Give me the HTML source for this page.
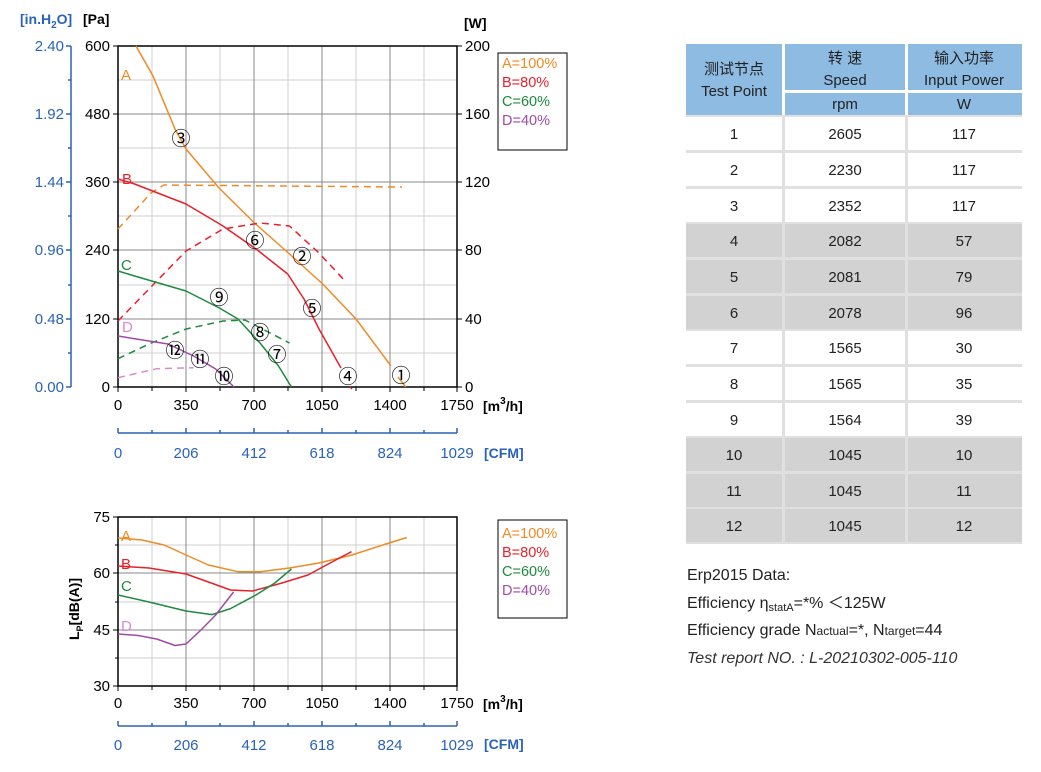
<!DOCTYPE html>
<html><head><meta charset="utf-8"><style>
html,body{margin:0;padding:0;background:#fff;}
svg{display:block;font-family:"Liberation Sans",sans-serif;}
.cn{font-family:"Liberation Sans","Noto Sans CJK SC",sans-serif;}
</style></head><body>
<svg width="1041" height="772" viewBox="0 0 1041 772" xmlns="http://www.w3.org/2000/svg">
<g stroke-width="1">
<g stroke="#cfcfcf">
<line x1="152" y1="46" x2="152" y2="387"/><line x1="220" y1="46" x2="220" y2="387"/><line x1="288" y1="46" x2="288" y2="387"/><line x1="356" y1="46" x2="356" y2="387"/><line x1="424" y1="46" x2="424" y2="387"/>
<line x1="118" y1="80" x2="457" y2="80"/><line x1="118" y1="148" x2="457" y2="148"/><line x1="118" y1="216" x2="457" y2="216"/><line x1="118" y1="285" x2="457" y2="285"/><line x1="118" y1="353" x2="457" y2="353"/>
</g>
<g stroke="#8a8a8a">
<line x1="186" y1="46" x2="186" y2="387"/><line x1="254" y1="46" x2="254" y2="387"/><line x1="322" y1="46" x2="322" y2="387"/><line x1="390" y1="46" x2="390" y2="387"/>
<line x1="118" y1="114" x2="457" y2="114"/><line x1="118" y1="182" x2="457" y2="182"/><line x1="118" y1="250" x2="457" y2="250"/><line x1="118" y1="319" x2="457" y2="319"/>
</g>
<rect x="118" y="46" width="339" height="341" fill="none" stroke="#000" stroke-width="1.5"/>
<g stroke="#000"><line x1="113" y1="46" x2="118" y2="46"/><line x1="113" y1="114" x2="118" y2="114"/><line x1="113" y1="182" x2="118" y2="182"/><line x1="113" y1="250" x2="118" y2="250"/><line x1="113" y1="319" x2="118" y2="319"/><line x1="113" y1="387" x2="118" y2="387"/>
<line x1="457" y1="46" x2="462" y2="46"/><line x1="457" y1="114" x2="462" y2="114"/><line x1="457" y1="182" x2="462" y2="182"/><line x1="457" y1="250" x2="462" y2="250"/><line x1="457" y1="319" x2="462" y2="319"/><line x1="457" y1="387" x2="462" y2="387"/>
<line x1="118" y1="387" x2="118" y2="392"/><line x1="152" y1="387" x2="152" y2="391"/><line x1="186" y1="387" x2="186" y2="392"/><line x1="220" y1="387" x2="220" y2="391"/><line x1="254" y1="387" x2="254" y2="392"/><line x1="288" y1="387" x2="288" y2="391"/><line x1="322" y1="387" x2="322" y2="392"/><line x1="356" y1="387" x2="356" y2="391"/><line x1="390" y1="387" x2="390" y2="392"/><line x1="424" y1="387" x2="424" y2="391"/><line x1="457" y1="387" x2="457" y2="392"/></g>
</g>
<g stroke="#2a62b8" stroke-width="1.5">
<line x1="71" y1="46" x2="71" y2="387"/>
<line x1="66" y1="46" x2="71" y2="46"/><line x1="66" y1="114" x2="71" y2="114"/><line x1="66" y1="182" x2="71" y2="182"/><line x1="66" y1="250" x2="71" y2="250"/><line x1="66" y1="319" x2="71" y2="319"/><line x1="66" y1="387" x2="71" y2="387"/>
<line x1="68" y1="80" x2="71" y2="80"/><line x1="68" y1="148" x2="71" y2="148"/><line x1="68" y1="216" x2="71" y2="216"/><line x1="68" y1="285" x2="71" y2="285"/><line x1="68" y1="353" x2="71" y2="353"/>
</g>
<g fill="#2a62b8" font-size="15" text-anchor="end">
<text x="64" y="51">2.40</text><text x="64" y="119">1.92</text><text x="64" y="187">1.44</text><text x="64" y="255">0.96</text><text x="64" y="324">0.48</text><text x="64" y="392">0.00</text>
</g>
<text x="20" y="24" fill="#2a62b8" font-size="14" font-weight="bold">[in.H<tspan font-size="10" dy="4">2</tspan><tspan dy="-4">O]</tspan></text>
<text x="83" y="24" font-size="14" font-weight="bold">[Pa]</text>
<text x="464" y="28" font-size="14" font-weight="bold">[W]</text>
<g font-size="15" text-anchor="end">
<text x="110" y="51">600</text><text x="110" y="119">480</text><text x="110" y="187">360</text><text x="110" y="255">240</text><text x="110" y="324">120</text><text x="110" y="392">0</text>
</g>
<g font-size="15">
<text x="465" y="51">200</text><text x="465" y="119">160</text><text x="465" y="187">120</text><text x="465" y="255">80</text><text x="465" y="324">40</text><text x="465" y="392">0</text>
</g>
<g font-size="15" text-anchor="middle">
<text x="118" y="410">0</text><text x="186" y="410">350</text><text x="254" y="410">700</text><text x="322" y="410">1050</text><text x="390" y="410">1400</text><text x="457" y="410">1750</text>
</g>
<text x="483" y="411" font-size="14" font-weight="bold">[m<tspan font-size="10" dy="-7">3</tspan><tspan dy="7">/h]</tspan></text>
<g stroke="#2a62b8" stroke-width="1.5">
<line x1="118" y1="433" x2="457" y2="433"/>
<line x1="118" y1="428" x2="118" y2="433"/><line x1="152" y1="430" x2="152" y2="433"/><line x1="186" y1="428" x2="186" y2="433"/><line x1="220" y1="430" x2="220" y2="433"/><line x1="254" y1="428" x2="254" y2="433"/><line x1="288" y1="430" x2="288" y2="433"/><line x1="322" y1="428" x2="322" y2="433"/><line x1="356" y1="430" x2="356" y2="433"/><line x1="390" y1="428" x2="390" y2="433"/><line x1="424" y1="430" x2="424" y2="433"/><line x1="457" y1="428" x2="457" y2="433"/>
</g>
<g fill="#2a62b8" font-size="15" text-anchor="middle">
<text x="118" y="458">0</text><text x="186" y="458">206</text><text x="254" y="458">412</text><text x="322" y="458">618</text><text x="390" y="458">824</text><text x="457" y="458">1029</text>
</g>
<text x="484" y="458" fill="#2a62b8" font-size="14" font-weight="bold">[CFM]</text>
<g fill="none" stroke-width="1.5" stroke-linejoin="round">
<path d="M136,46 L153,76 L175,129 L186,149 L219,188 L254.5,223 L289.5,254 L322.7,284 L356,319 L391,366 M398,377 L405.7,387" stroke="#f08a24"/>
<path d="M118,229 L151,193 L164,185 L402,187" stroke="#f08a24" stroke-dasharray="7,5"/>
<path d="M118,179 L134.6,184 L186,204 L223,226 L256,249 L287.7,274 L304,299 L319,329 L341,368 M350,387 L352,389" stroke="#e8202a"/>
<path d="M118,321 L149,289 L186,251 L223,229 L260,223 L289.5,226 L319,253 L345,281" stroke="#e8202a" stroke-dasharray="7,5"/>
<path d="M118,271 L134.6,276 L186,291 L219.4,308 L238,319 L260,343 L278.5,366 L291.4,387" stroke="#1e8a3e"/>
<path d="M118,358.7 L149,344 L186,329 L223,321 L245,320 L289.5,343" stroke="#1e8a3e" stroke-dasharray="7,5"/>
<path d="M118,336 L134.6,338.7 L168,344 L193.6,356 L215.7,369 L234,387" stroke="#a04aa8"/>
<path d="M118,377.7 L156.7,368.7 L193.6,367.7" stroke="#d88ad0" stroke-dasharray="7,5"/>
</g>
<g font-size="15">
<text x="121" y="80" fill="#f08a24">A</text><text x="122" y="184" fill="#e8202a">B</text><text x="121" y="270" fill="#1e8a3e">C</text><text x="122" y="332" fill="#d88ad0">D</text>
</g>
<g font-size="19" text-anchor="middle" fill="#000" class="cn">
<text x="181" y="145">③</text><text x="255" y="247">⑥</text><text x="302" y="263">②</text><text x="312" y="315">⑤</text><text x="219" y="304">⑨</text><text x="260" y="339">⑧</text><text x="277" y="361">⑦</text><text x="175" y="357">⑫</text><text x="200" y="366">⑪</text><text x="224" y="383">⑩</text><text x="348" y="383">④</text><text x="401" y="382">①</text>
</g>
<rect x="498" y="53" width="69" height="97" fill="#fff" stroke="#000" stroke-width="1"/>
<g font-size="14.5"><text x="502" y="68" fill="#f08a24">A=100%</text><text x="502" y="87" fill="#e8202a">B=80%</text><text x="502" y="106" fill="#1e8a3e">C=60%</text><text x="502" y="125" fill="#a04aa8">D=40%</text></g>

<g stroke="#cfcfcf">
<line x1="152" y1="517" x2="152" y2="686"/><line x1="220" y1="517" x2="220" y2="686"/><line x1="288" y1="517" x2="288" y2="686"/><line x1="356" y1="517" x2="356" y2="686"/><line x1="424" y1="517" x2="424" y2="686"/>
<line x1="118" y1="545" x2="457" y2="545"/><line x1="118" y1="602" x2="457" y2="602"/><line x1="118" y1="658" x2="457" y2="658"/>
</g>
<g stroke="#8a8a8a">
<line x1="186" y1="517" x2="186" y2="686"/><line x1="254" y1="517" x2="254" y2="686"/><line x1="322" y1="517" x2="322" y2="686"/><line x1="390" y1="517" x2="390" y2="686"/>
<line x1="118" y1="573" x2="457" y2="573"/><line x1="118" y1="630" x2="457" y2="630"/>
</g>
<rect x="118" y="517" width="339" height="169" fill="none" stroke="#000" stroke-width="1.5"/>
<g stroke="#000"><line x1="113" y1="517" x2="118" y2="517"/><line x1="113" y1="573" x2="118" y2="573"/><line x1="113" y1="630" x2="118" y2="630"/><line x1="113" y1="686" x2="118" y2="686"/>
<line x1="115" y1="545" x2="118" y2="545"/><line x1="115" y1="602" x2="118" y2="602"/><line x1="115" y1="658" x2="118" y2="658"/>
<line x1="118" y1="686" x2="118" y2="691"/><line x1="152" y1="686" x2="152" y2="690"/><line x1="186" y1="686" x2="186" y2="691"/><line x1="220" y1="686" x2="220" y2="690"/><line x1="254" y1="686" x2="254" y2="691"/><line x1="288" y1="686" x2="288" y2="690"/><line x1="322" y1="686" x2="322" y2="691"/><line x1="356" y1="686" x2="356" y2="690"/><line x1="390" y1="686" x2="390" y2="691"/><line x1="424" y1="686" x2="424" y2="690"/><line x1="457" y1="686" x2="457" y2="691"/></g>
<g font-size="15" text-anchor="end">
<text x="110" y="522">75</text><text x="110" y="578">60</text><text x="110" y="635">45</text><text x="110" y="691">30</text>
</g>
<text transform="translate(79,640) rotate(-90)" font-size="14" font-weight="bold">L<tspan font-size="9" dy="4">P</tspan><tspan dy="-4">[dB(A)]</tspan></text>
<g font-size="15" text-anchor="middle">
<text x="118" y="708">0</text><text x="186" y="708">350</text><text x="254" y="708">700</text><text x="322" y="708">1050</text><text x="390" y="708">1400</text><text x="457" y="708">1750</text>
</g>
<text x="483" y="709" font-size="14" font-weight="bold">[m<tspan font-size="10" dy="-7">3</tspan><tspan dy="7">/h]</tspan></text>
<g stroke="#2a62b8" stroke-width="1.5">
<line x1="118" y1="726" x2="457" y2="726"/>
<line x1="118" y1="721" x2="118" y2="726"/><line x1="152" y1="723" x2="152" y2="726"/><line x1="186" y1="721" x2="186" y2="726"/><line x1="220" y1="723" x2="220" y2="726"/><line x1="254" y1="721" x2="254" y2="726"/><line x1="288" y1="723" x2="288" y2="726"/><line x1="322" y1="721" x2="322" y2="726"/><line x1="356" y1="723" x2="356" y2="726"/><line x1="390" y1="721" x2="390" y2="726"/><line x1="424" y1="723" x2="424" y2="726"/><line x1="457" y1="721" x2="457" y2="726"/>
</g>
<g fill="#2a62b8" font-size="15" text-anchor="middle">
<text x="118" y="750">0</text><text x="186" y="750">206</text><text x="254" y="750">412</text><text x="322" y="750">618</text><text x="390" y="750">824</text><text x="457" y="750">1029</text>
</g>
<text x="484" y="749" fill="#2a62b8" font-size="14" font-weight="bold">[CFM]</text>
<g fill="none" stroke-width="1.5" stroke-linejoin="round">
<path d="M118,538 L142,540 L164,545 L186,555 L208.4,565 L238,571.7 L260,571.7 L289.5,568 L319,563 L352,555 L389,543 L406.8,537.5" stroke="#f08a24"/>
<path d="M118,566 L149,568 L186,574 L208.4,582 L230.5,590 L252.6,591 L282,583 L308,575 L326.4,565 L351.5,551.6" stroke="#e8202a"/>
<path d="M118,595 L149,602 L186,611 L212,614.6 L230.5,608.6 L256,595 L274.8,583 L291.4,569" stroke="#1e8a3e"/>
<path d="M118,634 L138,635.5 L156.7,639 L175,645.5 L186,644 L201,630 L215.7,615 L233.5,592" stroke="#a04aa8"/>
</g>
<g font-size="15">
<text x="121" y="541" fill="#f08a24">A</text><text x="121" y="569" fill="#e8202a">B</text><text x="121" y="591" fill="#1e8a3e">C</text><text x="121" y="631" fill="#d88ad0">D</text>
</g>
<rect x="498" y="520" width="69" height="98" fill="#fff" stroke="#000" stroke-width="1"/>
<g font-size="14.5"><text x="502" y="538" fill="#f08a24">A=100%</text><text x="502" y="557" fill="#e8202a">B=80%</text><text x="502" y="576" fill="#1e8a3e">C=60%</text><text x="502" y="595" fill="#a04aa8">D=40%</text></g>

<g>
<rect x="686" y="44" width="336" height="71" fill="#8dbbe2"/>
<rect x="782" y="44" width="3" height="71" fill="#fff"/>
<rect x="905" y="44" width="3" height="71" fill="#fff"/>
<rect x="785" y="90" width="237" height="3" fill="#fff"/>
<rect x="686" y="115" width="336" height="429" fill="#e0e0e0"/>
</g>
<g fill="#fff">
<rect x="686" y="117" width="96" height="33"/><rect x="785" y="117" width="120" height="33"/><rect x="908" y="117" width="114" height="33"/>
<rect x="686" y="153" width="96" height="33"/><rect x="785" y="153" width="120" height="33"/><rect x="908" y="153" width="114" height="33"/>
<rect x="686" y="189" width="96" height="33"/><rect x="785" y="189" width="120" height="33"/><rect x="908" y="189" width="114" height="33"/>
<rect x="686" y="331" width="96" height="33"/><rect x="785" y="331" width="120" height="33"/><rect x="908" y="331" width="114" height="33"/>
<rect x="686" y="367" width="96" height="33"/><rect x="785" y="367" width="120" height="33"/><rect x="908" y="367" width="114" height="33"/>
<rect x="686" y="403" width="96" height="33"/><rect x="785" y="403" width="120" height="33"/><rect x="908" y="403" width="114" height="33"/>
</g>
<g fill="#d2d2d2">
<rect x="686" y="224" width="96" height="33"/><rect x="785" y="224" width="120" height="33"/><rect x="908" y="224" width="114" height="33"/>
<rect x="686" y="260" width="96" height="33"/><rect x="785" y="260" width="120" height="33"/><rect x="908" y="260" width="114" height="33"/>
<rect x="686" y="296" width="96" height="33"/><rect x="785" y="296" width="120" height="33"/><rect x="908" y="296" width="114" height="33"/>
<rect x="686" y="438" width="96" height="33"/><rect x="785" y="438" width="120" height="33"/><rect x="908" y="438" width="114" height="33"/>
<rect x="686" y="474" width="96" height="33"/><rect x="785" y="474" width="120" height="33"/><rect x="908" y="474" width="114" height="33"/>
<rect x="686" y="509" width="96" height="33"/><rect x="785" y="509" width="120" height="33"/><rect x="908" y="509" width="114" height="33"/>
</g>
<g class="cn" font-size="15" fill="#222" text-anchor="middle">
<text x="734" y="74">测试节点</text><text x="734" y="96">Test Point</text>
<text x="845" y="63">转 速</text><text x="845" y="85">Speed</text><text x="845" y="109">rpm</text>
<text x="964" y="63">输入功率</text><text x="964" y="85">Input Power</text><text x="964" y="109">W</text>
</g>
<g font-size="15" fill="#222" text-anchor="middle">
<text x="734" y="139">1</text><text x="845" y="139">2605</text><text x="964" y="139">117</text>
<text x="734" y="175">2</text><text x="845" y="175">2230</text><text x="964" y="175">117</text>
<text x="734" y="211">3</text><text x="845" y="211">2352</text><text x="964" y="211">117</text>
<text x="734" y="246">4</text><text x="845" y="246">2082</text><text x="964" y="246">57</text>
<text x="734" y="282">5</text><text x="845" y="282">2081</text><text x="964" y="282">79</text>
<text x="734" y="318">6</text><text x="845" y="318">2078</text><text x="964" y="318">96</text>
<text x="734" y="353">7</text><text x="845" y="353">1565</text><text x="964" y="353">30</text>
<text x="734" y="389">8</text><text x="845" y="389">1565</text><text x="964" y="389">35</text>
<text x="734" y="425">9</text><text x="845" y="425">1564</text><text x="964" y="425">39</text>
<text x="734" y="460">10</text><text x="845" y="460">1045</text><text x="964" y="460">10</text>
<text x="734" y="496">11</text><text x="845" y="496">1045</text><text x="964" y="496">11</text>
<text x="734" y="531">12</text><text x="845" y="531">1045</text><text x="964" y="531">12</text>
</g>
<g font-size="16" fill="#222">
<text x="687" y="580">Erp2015  Data:</text>
<text x="687" y="608">Efficiency η<tspan font-size="11" dy="3">statA</tspan><tspan dy="-3">=*%  ＜125W</tspan></text>
<text x="687" y="635">Efficiency grade N<tspan font-size="12">actual</tspan>=*, N<tspan font-size="12">target</tspan>=44</text>
<text x="687" y="663" font-style="italic" fill="#333">Test report NO. : L-20210302-005-110</text>
</g>
</svg>
</body></html>
